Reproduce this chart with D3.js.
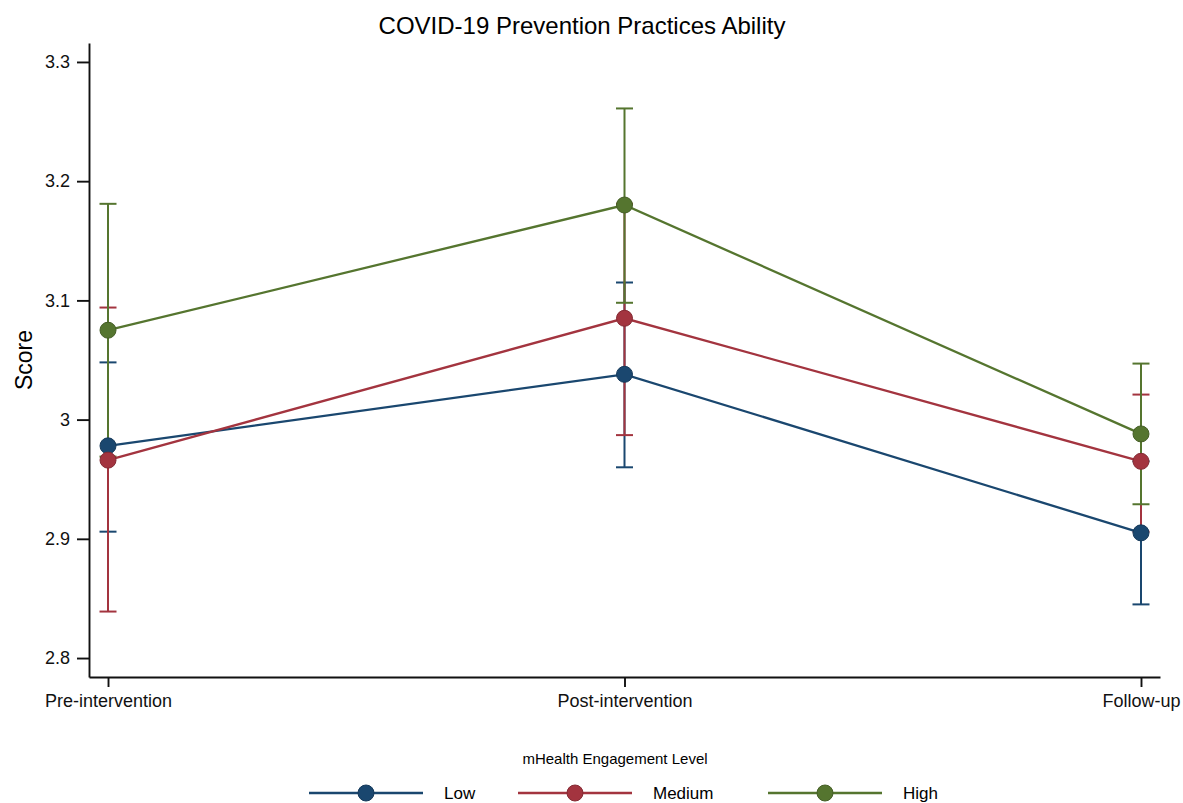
<!DOCTYPE html>
<html lang="en">
<head>
    <meta charset="UTF-8">
    <title>COVID-19 Prevention Practices Ability</title>
    <script src="https://cdn.jsdelivr.net/npm/d3@7"></script>
    <style>
        body {
            margin: 0;
            background: white;
        }
        svg {
            font-family: "Liberation Sans", Arial, sans-serif;
        }
    </style>
</head>
<body>
<script>
    const width  = 1183;
    const height = 803;

    // Time points (x categories)
    const timepoints = ["Pre-intervention", "Post-intervention", "Follow-up"];

    // Engagement levels (series)
    const levels = ["Low", "Medium", "High"];
    const colors = ["#1a476f", "#a3343f", "#55752f"];

    // Means
    const lowMean    = [2.978, 3.038, 2.905];
    const mediumMean = [2.966, 3.085, 2.965];
    const highMean   = [3.075, 3.180, 2.988];

    // 95% CI lower / upper bounds
    const lowLower    = [2.906, 2.960, 2.845];
    const lowUpper    = [3.048, 3.115, 2.965];
    const mediumLower = [2.839, 2.987, 2.906];
    const mediumUpper = [3.094, 3.181, 3.021];
    const highLower   = [2.969, 3.098, 2.929];
    const highUpper   = [3.181, 3.261, 3.047];

    const yTicks = [2.8, 2.9, 3.0, 3.1, 3.2, 3.3];

    const series = [
        {name: levels[0], color: colors[0], mean: lowMean,    lo: lowLower,    hi: lowUpper},
        {name: levels[1], color: colors[1], mean: mediumMean, lo: mediumLower, hi: mediumUpper},
        {name: levels[2], color: colors[2], mean: highMean,   lo: highLower,   hi: highUpper}
    ];

    const svg = d3.select("body").append("svg")
                  .attr("width", width)
                  .attr("height", height);

    // plot region
    const plotLeft = 89, plotRight = 1160, plotTop = 43, plotBottom = 677;

    const x = d3.scalePoint()
                .domain(timepoints)
                .range([plotLeft, plotRight])
                .padding(0.0368);

    const y = d3.scaleLinear()
                .domain([2.7841, 3.3159])
                .range([plotBottom, plotTop]);

    // Title
    svg.append("text")
       .attr("x", 582)
       .attr("y", 34)
       .attr("text-anchor", "middle")
       .style("font-size", "24px")
       .text("COVID-19 Prevention Practices Ability");

    // Axes
    const yAxis = svg.append("g")
       .attr("transform", `translate(${plotLeft},0)`)
       .call(d3.axisLeft(y)
               .tickValues(yTicks)
               .tickSize(12)
               .tickSizeOuter(0)
               .tickPadding(7)
               .tickFormat(d => String(+d.toFixed(1))));

    const xAxis = svg.append("g")
       .attr("transform", `translate(0,${plotBottom})`)
       .call(d3.axisBottom(x)
               .tickSize(10)
               .tickSizeOuter(0)
               .tickPadding(7));

    [yAxis, xAxis].forEach(g => {
        g.selectAll("path, line").attr("stroke", "#111").attr("stroke-width", 1.9);
        g.selectAll("text").attr("fill", "#111").style("font-size", "18px");
    });

    // y axis title
    svg.append("text")
       .attr("transform", "translate(32,360) rotate(-90)")
       .attr("text-anchor", "middle")
       .style("font-size", "23px")
       .text("Score");

    const cap = 8.5;

    // Confidence interval caps
    series.forEach(s => {
        const g = svg.append("g").attr("stroke", s.color).attr("stroke-width", 2);
        timepoints.forEach((t, i) => {
            g.append("line")
             .attr("x1", x(t)).attr("x2", x(t))
             .attr("y1", y(s.lo[i])).attr("y2", y(s.hi[i]));
            [s.lo[i], s.hi[i]].forEach(v => {
                g.append("line")
                 .attr("x1", x(t) - cap).attr("x2", x(t) + cap)
                 .attr("y1", y(v)).attr("y2", y(v));
            });
        });
    });

    // Lines and markers
    const line = d3.line()
                   .x((d, i) => x(timepoints[i]))
                   .y(d => y(d));

    series.forEach(s => {
        svg.append("path")
           .attr("d", line(s.mean))
           .attr("fill", "none")
           .attr("stroke", s.color)
           .attr("stroke-width", 2.3);

        svg.selectAll(null)
           .data(s.mean)
           .join("circle")
           .attr("cx", (d, i) => x(timepoints[i]))
           .attr("cy", d => y(d))
           .attr("r", 8)
           .attr("fill", s.color)
           .attr("stroke", d3.color(s.color).darker(0.6))
           .attr("stroke-width", 1);
    });

    // Legend
    svg.append("text")
       .attr("x", 615)
       .attr("y", 764)
       .attr("text-anchor", "middle")
       .style("font-size", "15px")
       .text("mHealth Engagement Level");

    const keyStarts = [309, 518, 768];
    const legend = svg.append("g");
    series.forEach((s, i) => {
        const k = legend.append("g").attr("transform", `translate(${keyStarts[i]},793)`);
        k.append("line")
         .attr("x1", 0).attr("x2", 114)
         .attr("stroke", s.color).attr("stroke-width", 2.3);
        k.append("circle")
         .attr("cx", 57).attr("r", 8)
         .attr("fill", s.color)
         .attr("stroke", d3.color(s.color).darker(0.6))
         .attr("stroke-width", 1);
        k.append("text")
         .attr("x", 135).attr("y", 6)
         .style("font-size", "17px")
         .text(s.name);
    });
</script>
</body>
</html>
